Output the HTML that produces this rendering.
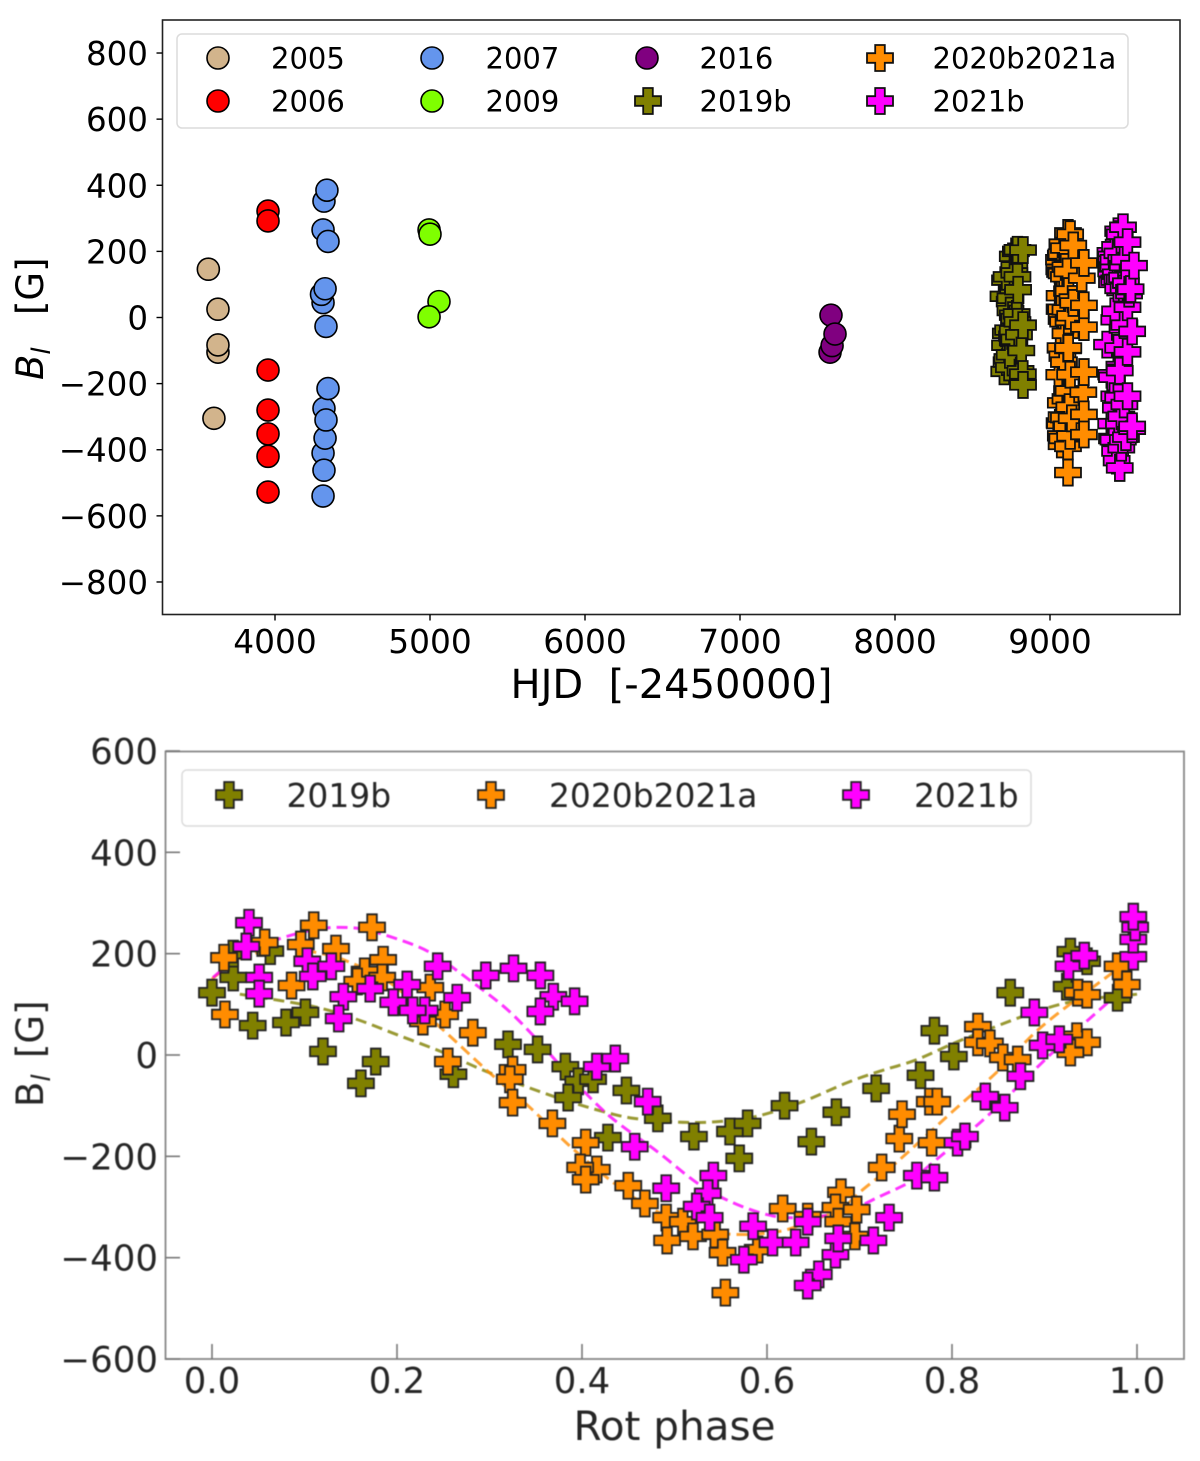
<!DOCTYPE html>
<html lang="en">
<head>
<meta charset="utf-8">
<title>Longitudinal field over time and rotational phase</title>
<style>
html,body{margin:0;padding:0;background:#fff;}
svg{display:block;font-family:"DejaVu Sans","Liberation Sans",sans-serif;}
#bottom-panel{filter:blur(0.4px);}
</style>
</head>
<body>
<svg id="chart" xmlns="http://www.w3.org/2000/svg" width="1200" height="1461" viewBox="0 0 1200 1461">
  <rect x="0" y="0" width="1200" height="1461" fill="#fff"/>

  <g id="top-panel">
    <rect x="162.5" y="20" width="1017.5" height="594.5" fill="none" stroke="#222" stroke-width="1.6"/>
    <g id="top-ticks"></g>
    <g id="top-marks"></g>
    <text x="671.5" y="698" font-size="40" text-anchor="middle" fill="#000">HJD&#160;&#160;[-2450000]</text>
    <text transform="translate(43,380) rotate(-90)" font-size="37" fill="#000"><tspan font-style="italic">B</tspan><tspan font-style="italic" font-size="26" dy="7">l</tspan><tspan x="65" dy="-7">[G]</tspan></text>
    <g>
      <rect x="177" y="34" width="951" height="94" rx="5" fill="#fff" stroke="#dcdcdc" stroke-width="1.5"/>
      <g font-size="29" fill="#000">
        <g><circle cx="218" cy="58" r="11" fill="#d2b48c" stroke="#000" stroke-width="1.6"/><text x="271" y="68.5">2005</text></g>
        <g><circle cx="218" cy="101" r="11" fill="#ff0000" stroke="#000" stroke-width="1.6"/><text x="271" y="111.5">2006</text></g>
        <g><circle cx="432" cy="58" r="11" fill="#6495ed" stroke="#000" stroke-width="1.6"/><text x="485.5" y="68.5">2007</text></g>
        <g><circle cx="432" cy="101" r="11" fill="#7fff00" stroke="#000" stroke-width="1.6"/><text x="485.5" y="111.5">2009</text></g>
        <g><circle cx="647" cy="58" r="11" fill="#800080" stroke="#000" stroke-width="1.6"/><text x="699.5" y="68.5">2016</text></g>
        <g><path transform="translate(648,101)" d="M-4.8,-13H4.8V-4.8H13V4.8H4.8V13H-4.8V4.8H-13V-4.8H-4.8Z" fill="#808000" stroke="#111" stroke-width="1.8"/><text x="699.5" y="111.5">2019b</text></g>
        <g><path transform="translate(880,58)" d="M-4.8,-13H4.8V-4.8H13V4.8H4.8V13H-4.8V4.8H-13V-4.8H-4.8Z" fill="#ff8c00" stroke="#111" stroke-width="1.8"/><text x="932.5" y="68.5">2020b2021a</text></g>
        <g><path transform="translate(880,101)" d="M-4.8,-13H4.8V-4.8H13V4.8H4.8V13H-4.8V4.8H-13V-4.8H-4.8Z" fill="#ff00ff" stroke="#111" stroke-width="1.8"/><text x="932.5" y="111.5">2021b</text></g>
      </g>
    </g>
  </g>

  <g id="bottom-panel">
    <rect x="165.5" y="751.5" width="1018.5" height="607.5" fill="none" stroke="#888" stroke-width="1.8"/>
    <g id="bottom-ticks"></g>
    <g id="bottom-curves"></g>
    <g id="bottom-marks"></g>
    <text x="674.5" y="1440" font-size="40.5" text-anchor="middle" fill="#262626">Rot phase</text>
    <text transform="translate(43,1107) rotate(-90)" font-size="37" fill="#262626">B<tspan font-style="italic" font-size="26" dy="7">l</tspan><tspan x="49" dy="-7">[G]</tspan></text>
    <g>
      <rect x="182" y="770" width="849" height="56" rx="5" fill="#fff" fill-opacity="0.8" stroke="#dcdcdc" stroke-width="1.5"/>
      <g font-size="32.9" fill="#262626">
        <g><path transform="translate(229,795)" d="M-4.8,-13H4.8V-4.8H13V4.8H4.8V13H-4.8V4.8H-13V-4.8H-4.8Z" fill="#808000" stroke="#222" stroke-width="1.8"/><text x="286.5" y="807">2019b</text></g>
        <g><path transform="translate(491,795)" d="M-4.8,-13H4.8V-4.8H13V4.8H4.8V13H-4.8V4.8H-13V-4.8H-4.8Z" fill="#ff8c00" stroke="#222" stroke-width="1.8"/><text x="549" y="807">2020b2021a</text></g>
        <g><path transform="translate(856,795)" d="M-4.8,-13H4.8V-4.8H13V4.8H4.8V13H-4.8V4.8H-13V-4.8H-4.8Z" fill="#ff00ff" stroke="#222" stroke-width="1.8"/><text x="914" y="807">2021b</text></g>
      </g>
    </g>
  </g>
</svg>

<script>
// ---- Tick labels ----
const topXTicks = [4000, 5000, 6000, 7000, 8000, 9000];
const topYTicks = [800, 600, 400, 200, 0, -200, -400, -600, -800];
const bottomXTicks = [0.0, 0.2, 0.4, 0.6, 0.8, 1.0];
const bottomYTicks = [600, 400, 200, 0, -200, -400, -600];

// ---- Top panel, early seasons: HJD and field ----
const hjd2005 = [3570, 3632, 3632, 3632, 3606];
const field2005 = [146, 25, -105, -83, -305];
const hjd2006 = [3955, 3955, 3955, 3955, 3955, 3955, 3955];
const field2006 = [322, 292, -159, -280, -352, -420, -528];
const hjd2007 = [4310, 4310, 4316, 4316, 4323, 4329, 4342, 4310, 4300, 4323, 4329, 4342, 4316, 4335];
const field2007 = [-540, -410, -462, -275, -365, -310, -215, 45, 70, 87, -27, 230, 352, 385];
const hjd2007b = [4310];
const field2007b = [265];
const hjd2009 = [4994, 5000, 5058, 4994];
const field2009 = [265, 252, 48, 2];
const hjd2016 = [7581, 7587, 7594, 7613];
const field2016 = [-105, 7, -85, -50];

// ---- Spectropolarimetric seasons: rotation phase, field, HJD ----
const phase2019b = [0.000,0.023,0.023,0.044,0.080,0.101,0.120,0.177,0.161,0.261,0.320,0.352,0.382,0.396,0.385,0.412,0.448,0.482,0.428,0.521,0.560,0.579,0.570,0.619,0.675,0.648,0.718,0.766,0.781,0.802,0.863,0.928,0.946,0.924,0.979,0.063];
const field2019b = [123,153,200,58,64,84,7,-13,-56,-38,21,11,-23,-52,-84,-48,-70,-125,-163,-161,-151,-135,-204,-100,-113,-171,-66,-40,48,-3,123,204,185,135,113,205];
const hjd2019b = [8720,8770,8780,8745,8700,8794,8760,8790,8755,8730,8745,8785,8826,8800,8710,8715,8760,8725,8705,8810,8735,8720,8826,8815,8740,8825,8770,8760,8740,8770,8790,8826,8760,8770,8710,8790];

const phase2020b = [0.013,0.014,0.057,0.110,0.096,0.086,0.134,0.173,0.185,0.165,0.157,0.184,0.236,0.252,0.228,0.282,0.255,0.325,0.322,0.325,0.368,0.404,0.416,0.398,0.404,0.450,0.468,0.491,0.509,0.492,0.520,0.544,0.552,0.590,0.555,0.617,0.644,0.680,0.674,0.697,0.677,0.695,0.724,0.743,0.746,0.778,0.776,0.784,0.828,0.828,0.841,0.855,0.871,0.936,0.946,0.935,0.946,0.928,0.979,0.989];
const field2020b = [192,80,222,256,218,137,210,252,188,165,145,153,133,80,66,44,-13,-29,-48,-94,-135,-173,-226,-222,-246,-258,-293,-321,-329,-366,-358,-354,-390,-384,-469,-303,-319,-271,-301,-305,-329,-358,-222,-165,-117,-173,-92,-92,56,25,23,-5,-9,123,119,37,25,5,175,139];
const hjd2020b = [9075,9110,9080,9116,9150,9065,9090,9130,9070,9219,9060,9100,9075,9120,9062,9150,9085,9219,9100,9116,9090,9060,9215,9120,9100,9070,9219,9065,9110,9080,9130,9219,9116,9075,9116,9090,9062,9125,9075,9140,9105,9070,9110,9219,9080,9130,9118,9068,9145,9062,9100,9075,9120,9090,9205,9219,9072,9130,9058,9112];

const phase2021b = [0.040,0.037,0.051,0.051,0.103,0.129,0.109,0.142,0.137,0.171,0.211,0.244,0.196,0.265,0.230,0.217,0.296,0.326,0.355,0.369,0.392,0.355,0.416,0.436,0.471,0.457,0.542,0.536,0.524,0.538,0.491,0.585,0.606,0.631,0.644,0.575,0.674,0.677,0.715,0.732,0.656,0.644,0.762,0.781,0.806,0.814,0.836,0.857,0.874,0.889,0.898,0.916,0.926,0.943,0.996,0.996,0.998,0.996];
const field2021b = [261,214,153,121,185,175,155,115,72,131,139,175,104,113,88,88,157,171,157,115,106,86,-23,-7,-92,-181,-238,-273,-299,-321,-263,-338,-370,-370,-329,-404,-394,-362,-366,-321,-433,-455,-238,-242,-173,-161,-82,-104,-42,84,19,31,175,196,194,228,252,273];
const hjd2021b = [9440,9420,9400,9465,9395,9480,9410,9450,9510,9425,9395,9460,9490,9415,9440,9475,9542,9395,9470,9435,9400,9520,9480,9415,9440,9400,9500,9425,9460,9395,9480,9530,9410,9470,9530,9420,9460,9490,9400,9445,9430,9450,9415,9440,9395,9450,9368,9500,9530,9510,9420,9500,9410,9390,9435,9500,9450,9471];

// ---- Fit curves ----
const fitPhase2019b = [0.03,0.109,0.157,0.2,0.25,0.3,0.373,0.434,0.466,0.513,0.55,0.589,0.636,0.686,0.722,0.762,0.819,0.917,1.0];
const fitField2019b = [120,96,70,40,5,-35,-84,-117,-127,-133,-131,-121,-94,-55,-32,-9,36,100,120];
const fitPhase2020b = [0.0,0.03,0.077,0.113,0.142,0.192,0.246,0.3,0.344,0.387,0.434,0.477,0.524,0.563,0.614,0.65,0.679,0.704,0.74,0.801,0.849,0.897,0.971,0.995];
const fitField2020b = [150,190,212,202,188,143,56,-35,-104,-180,-252,-305,-340,-354,-348,-325,-305,-265,-212,-111,-33,56,159,190];
const fitPhase2021b = [0.001,0.023,0.052,0.081,0.12,0.157,0.192,0.236,0.282,0.319,0.351,0.39,0.43,0.481,0.524,0.56,0.6,0.632,0.682,0.722,0.755,0.773,0.838,0.903,0.96,1.0];
const fitField2021b = [153,185,214,234,250,250,234,202,143,90,31,-48,-121,-190,-252,-289,-315,-321,-311,-279,-250,-222,-121,-5,90,153];

// ---- Axis functions ----
function topX(hjd){ return 275 + (hjd - 4000) * 0.155; }
function topY(field){ return 317.5 - field * 0.3306; }
function botX(phase){ return 212 + phase * 925; }
function botY(field){ return 1055 - field * 0.5067; }

const NS = 'http://www.w3.org/2000/svg';
const PLUS = 'M-4.8,-13H4.8V-4.8H13V4.8H4.8V13H-4.8V4.8H-13V-4.8H-4.8Z';

function drawCircle(parent, cx, cy, fill, name){
  const el = document.createElementNS(NS, 'circle');
  
  
  el.setAttribute('cx', cx);
  el.setAttribute('cy', cy);
  el.setAttribute('r', 11);
  el.setAttribute('fill', fill);
  el.setAttribute('stroke', '#000');
  el.setAttribute('stroke-width', 1.6);
  parent.appendChild(el);
}
function drawPlus(parent, cx, cy, fill, name, stroke){
  const el = document.createElementNS(NS, 'path');
  
  
  el.setAttribute('transform', 'translate(' + cx + ',' + cy + ')');
  el.setAttribute('d', PLUS);
  el.setAttribute('fill', fill);
  el.setAttribute('stroke', stroke);
  el.setAttribute('stroke-width', 1.8);
  parent.appendChild(el);
}
function drawTick(parent, x1, y1, x2, y2, color, width, name){
  const el = document.createElementNS(NS, 'line');
  
  
  el.setAttribute('x1', x1);
  el.setAttribute('y1', y1);
  el.setAttribute('x2', x2);
  el.setAttribute('y2', y2);
  el.setAttribute('stroke', color);
  el.setAttribute('stroke-width', width);
  parent.appendChild(el);
}
function drawLabel(parent, x, y, str, size, anchor, color, name){
  const el = document.createElementNS(NS, 'text');
  
  
  el.setAttribute('x', x);
  el.setAttribute('y', y);
  el.setAttribute('font-size', size);
  el.setAttribute('text-anchor', anchor);
  el.setAttribute('fill', color);
  el.textContent = str;
  parent.appendChild(el);
}
function fmtInt(v){ return v < 0 ? '\u2212' + Math.abs(v) : String(v); }

// ---- Top axes ----
const topTicks = document.getElementById('top-ticks');
topXTicks.forEach(function(t){
  drawTick(topTicks, topX(t), 614.5, topX(t), 620.5, '#000', 1.4, 'top-x-tick');
  drawLabel(topTicks, topX(t), 653, String(t), 32.8, 'middle', '#000', 'top-x-tick-label');
});
topYTicks.forEach(function(t){
  drawTick(topTicks, 156.5, topY(t), 162.5, topY(t), '#000', 1.4, 'top-y-tick');
  drawLabel(topTicks, 148, topY(t) + 12, fmtInt(t), 32.5, 'end', '#000', 'top-y-tick-label');
});

// ---- Top marks ----
const topMarks = document.getElementById('top-marks');
function topCircles(hjd, field, fill, name){
  hjd.forEach(function(h, i){ drawCircle(topMarks, topX(h), topY(field[i]), fill, name); });
}
function topPluses(hjd, field, fill, name){
  const order = hjd.map(function(h, i){ return i; }).sort(function(a, b){ return hjd[a] - hjd[b]; });
  order.forEach(function(i){ drawPlus(topMarks, topX(hjd[i]), topY(field[i]), fill, name, '#111'); });
}
topCircles(hjd2005, field2005, '#d2b48c', 'point-2005');
topCircles(hjd2006, field2006, '#ff0000', 'point-2006');
topCircles(hjd2007b, field2007b, '#6495ed', 'point-2007');
topCircles(hjd2007, field2007, '#6495ed', 'point-2007');
topCircles(hjd2009, field2009, '#7fff00', 'point-2009');
topCircles(hjd2016, field2016, '#800080', 'point-2016');
topPluses(hjd2019b, field2019b, '#808000', 'point-2019b');
topPluses(hjd2020b, field2020b, '#ff8c00', 'point-2020b2021a');
topPluses(hjd2021b, field2021b, '#ff00ff', 'point-2021b');

// ---- Bottom axes ----
const bottomTicks = document.getElementById('bottom-ticks');
bottomXTicks.forEach(function(t){
  drawTick(bottomTicks, botX(t), 1359, botX(t), 1344, '#777', 1.6, 'bottom-x-tick');
  drawLabel(bottomTicks, botX(t), 1393, t.toFixed(1), 35.5, 'middle', '#262626', 'bottom-x-tick-label');
});
bottomYTicks.forEach(function(t){
  drawTick(bottomTicks, 165.5, botY(t), 180, botY(t), '#777', 1.6, 'bottom-y-tick');
  drawLabel(bottomTicks, 158, botY(t) + 13, fmtInt(t), 35.6, 'end', '#262626', 'bottom-y-tick-label');
});

// ---- Bottom fit curves (Catmull-Rom through the read values) ----
const bottomCurves = document.getElementById('bottom-curves');
function drawCurve(phases, fields, color, name){
  const el = document.createElementNS(NS, 'path');
  
  
  const pts = phases.map(function(p, i){ return [botX(p), botY(fields[i])]; });
  let d = 'M' + pts[0][0].toFixed(1) + ',' + pts[0][1].toFixed(1);
  for (let i = 0; i < pts.length - 1; i++) {
    const a = pts[Math.max(i - 1, 0)], b = pts[i], c = pts[i + 1], e = pts[Math.min(i + 2, pts.length - 1)];
    d += 'C' + (b[0] + (c[0] - a[0]) / 6).toFixed(1) + ',' + (b[1] + (c[1] - a[1]) / 6).toFixed(1) + ' ' +
         (c[0] - (e[0] - b[0]) / 6).toFixed(1) + ',' + (c[1] - (e[1] - b[1]) / 6).toFixed(1) + ' ' +
         c[0].toFixed(1) + ',' + c[1].toFixed(1);
  }
  el.setAttribute('d', d);
  el.setAttribute('fill', 'none');
  el.setAttribute('stroke', color);
  el.setAttribute('stroke-opacity', 0.8);
  el.setAttribute('stroke-width', 3);
  el.setAttribute('stroke-dasharray', '11 6');
  bottomCurves.appendChild(el);
}
drawCurve(fitPhase2019b, fitField2019b, '#808000', 'fit-curve-2019b');
drawCurve(fitPhase2020b, fitField2020b, '#ff8c00', 'fit-curve-2020b2021a');
drawCurve(fitPhase2021b, fitField2021b, '#ff00ff', 'fit-curve-2021b');

// ---- Bottom marks ----
const bottomMarks = document.getElementById('bottom-marks');
function bottomPluses(phases, fields, fill, name){
  phases.forEach(function(p, i){ drawPlus(bottomMarks, botX(p), botY(fields[i]), fill, name, '#222'); });
}
bottomPluses(phase2019b, field2019b, '#808000', 'phase-point-2019b');
bottomPluses(phase2020b, field2020b, '#ff8c00', 'phase-point-2020b2021a');
bottomPluses(phase2021b, field2021b, '#ff00ff', 'phase-point-2021b');
</script>
</body>
</html>
